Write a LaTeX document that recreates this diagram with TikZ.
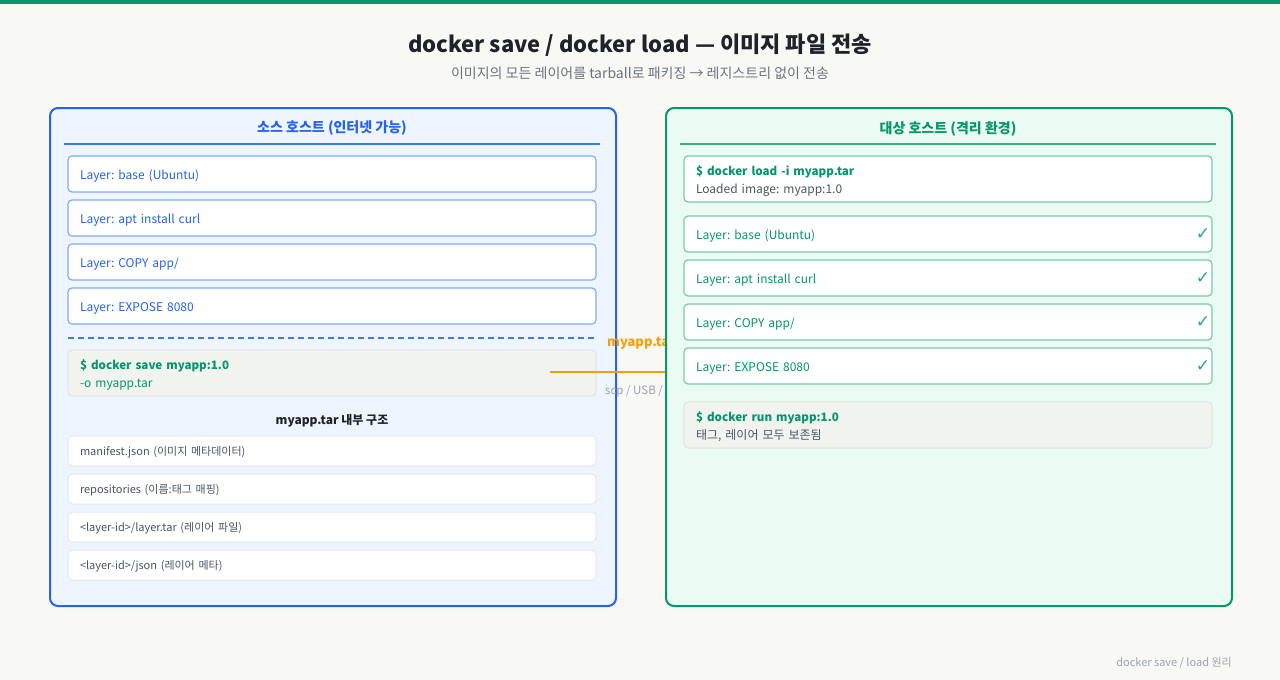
\documentclass[tikz,border=0pt]{standalone}
\usepackage{fontspec}
\setmainfont{Noto Sans CJK KR}
\newfontfamily\symfont{DejaVu Sans}
\frenchspacing
\definecolor{bg}{HTML}{F8F9F5}
\definecolor{topbar}{HTML}{059669}
\definecolor{titlec}{HTML}{1F2328}
\definecolor{subc}{HTML}{6B7280}
\definecolor{bluec}{HTML}{2563EB}
\definecolor{bluefill}{HTML}{EFF5FE}
\definecolor{blueline}{HTML}{3B7BF0}
\definecolor{blueborder}{HTML}{84A9F6}
\definecolor{greenc}{HTML}{059669}
\definecolor{greenfill}{HTML}{EAFBF3}
\definecolor{greenline}{HTML}{3AAE86}
\definecolor{greenborder}{HTML}{76CBA9}
\definecolor{grayfill}{HTML}{F1F3EE}
\definecolor{grayborder}{HTML}{E4E7E1}
\definecolor{fileborder}{HTML}{E3E7EE}
\definecolor{filetext}{HTML}{4B5563}
\definecolor{darktext}{HTML}{1F2328}
\definecolor{orangec}{HTML}{F59E0B}
\definecolor{footc}{HTML}{9CA3AF}
\newcommand{\cmdtxt}[1]{{\fontsize{11.6}{18}\selectfont\bfseries #1}}
\tikzset{
  panel/.style={draw, line width=2pt, rounded corners=8pt, minimum width=566pt, minimum height=498pt, anchor=north west, inner sep=0pt},
  hdr/.style={font=\fontsize{14}{17}\selectfont\bfseries},
  boxbase/.style={rounded corners=4pt, line width=1.2pt, minimum width=528pt, text width=504pt, inner xsep=12pt, inner ysep=0pt, align=left},
  lbox/.style={boxbase, draw=blueborder, fill=white, minimum height=36pt, text height=12pt, text depth=2pt, text=bluec, font=\fontsize{12}{15}\selectfont},
  rbox/.style={boxbase, draw=greenborder, fill=white, minimum height=36pt, text height=12pt, text depth=2pt, text=greenc, font=\fontsize{12}{15}\selectfont},
  cmdbox/.style={boxbase, minimum height=46pt, text height=13pt, text depth=20pt, font=\fontsize{12}{18}\selectfont},
  fbox/.style={boxbase, draw=fileborder, fill=white, line width=1pt, minimum height=30pt, text height=11pt, text depth=2pt, text=filetext, font=\fontsize{11}{14}\selectfont},
  chk/.style={text=greenc!85, font=\symfont\fontsize{17}{19}\selectfont, inner sep=0pt},
}
\begin{document}
\begin{tikzpicture}[x=1pt,y=-1pt]
\fill[bg] (0,0) rectangle (1280,680);
\useasboundingbox (0,0) rectangle (1280,680);
\fill[topbar] (0,0) rectangle (1280,4);
\node[text=titlec, font=\fontsize{22}{26}\selectfont\bfseries] (title) at (640,45.5) {docker save / docker load — 이미지 파일 전송};
\node[text=subc, font=\fontsize{14}{17}\selectfont] (sub) at (640,73) {이미지의 모든 레이어를 tarball로 패키징 → 레지스트리 없이 전송};
% left panel
\node[panel, draw=bluec, fill=bluefill] (lp) at (49,107) {};
\node[hdr, text=bluec] (lh) at (332,128.5) {소스 호스트 (인터넷 가능)};
\draw[blueline, line width=2pt] (64,144) coordinate (lha) -- (600,144) coordinate (lhb);
\node[lbox] (l1) at (332,174) {Layer: base (Ubuntu)};
\node[lbox] (l2) at (332,218) {Layer: apt install curl};
\node[lbox] (l3) at (332,262) {Layer: COPY app/};
\node[lbox] (l4) at (332,306) {Layer: EXPOSE 8080};
\draw[blueline, line width=2pt, dash pattern=on 6pt off 4pt] (68,338) coordinate (dsa) -- (596,338) coordinate (dsb);
\node[cmdbox, draw=grayborder, fill=grayfill, text=greenc] (save) at (332,373) {\cmdtxt{\$ docker save myapp:1.0}\\-o myapp.tar};
\node[text=darktext, font=\fontsize{12}{15}\selectfont\bfseries] (struct) at (332,421) {myapp.tar 내부 구조};
\node[fbox] (f1) at (332,451) {manifest.json (이미지 메타데이터)};
\node[fbox] (f2) at (332,489) {repositories (이름:태그 매핑)};
\node[fbox] (f3) at (332,527) {<layer-id>/layer.tar (레이어 파일)};
\node[fbox] (f4) at (332,565) {<layer-id>/json (레이어 메타)};
% transfer connector
\coordinate (as) at (550,372);
\coordinate (ae) at (760,372);
\draw[orangec, line width=2pt] (as) -- (ae);
\node[anchor=west, text=orangec, font=\fontsize{13}{15}\selectfont\bfseries, inner sep=0pt] (tl) at (607,343) {myapp.tar};
\node[anchor=west, text=footc, font=\fontsize{11.5}{14}\selectfont, inner sep=0pt] (tl2) at (605,391) {scp / USB / 오프라인};
% right panel
\node[panel, draw=greenc, fill=greenfill] (rp) at (665,107) {};
\node[hdr, text=greenc] (rh) at (948,128.5) {대상 호스트 (격리 환경)};
\draw[greenline, line width=2pt] (680,144) coordinate (rha) -- (1216,144) coordinate (rhb);
\node[cmdbox, draw=greenborder, fill=white, text=filetext] (load) at (948,179) {\textcolor{greenc}{\cmdtxt{\$ docker load -i myapp.tar}}\\Loaded image: myapp:1.0};
\node[rbox] (r1) at (948,234) {Layer: base (Ubuntu)};
\node[rbox] (r2) at (948,278) {Layer: apt install curl};
\node[rbox] (r3) at (948,322) {Layer: COPY app/};
\node[rbox] (r4) at (948,366) {Layer: EXPOSE 8080};
\node[chk] (c1) at (1203,234) {✓};
\node[chk] (c2) at (1203,278) {✓};
\node[chk] (c3) at (1203,322) {✓};
\node[chk] (c4) at (1203,366) {✓};
\node[cmdbox, draw=grayborder, fill=grayfill, text=filetext] (run) at (948,425) {\textcolor{greenc}{\cmdtxt{\$ docker run myapp:1.0}}\\태그, 레이어 모두 보존됨};
% footer
\node[anchor=east, text=footc, font=\fontsize{11}{13}\selectfont, inner sep=0pt] (foot) at (1232,663) {docker save / load 원리};
\end{tikzpicture}
\end{document}
